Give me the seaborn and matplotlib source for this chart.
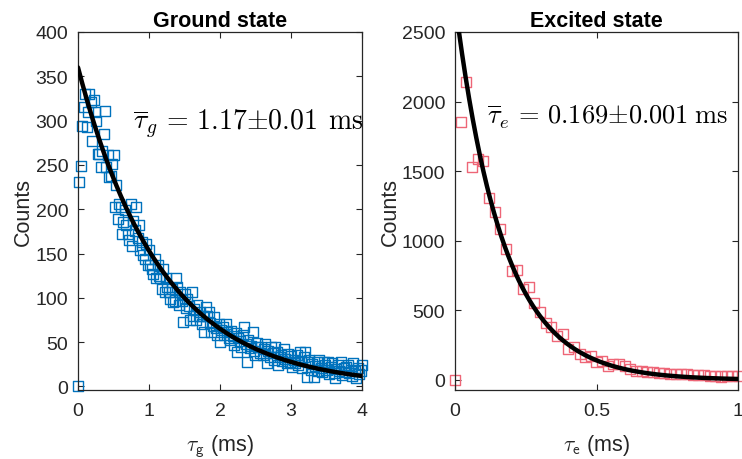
import numpy as np
import pandas as pd
import matplotlib
matplotlib.use("Agg")
import matplotlib.pyplot as plt
import seaborn as sns

# ---------------- data ----------------
# Ground state histogram (t = 0 .. 4 ms, 0.02 ms bins)
ground_t_step = 0.02
ground_counts = [
    0, 231, 249, 294, 315, 330, 293, 310, 330, 321,
    277, 323, 310, 300, 262, 262, 248, 266, 285, 311,
    248, 261, 236, 238, 251, 261, 202, 227, 189, 206,
    202, 172, 186, 199, 182, 172, 165, 206, 159, 187,
    176, 202, 167, 182, 154, 163, 148, 144, 161, 137,
    154, 137, 133, 127, 144, 122, 137, 125, 122, 110,
    133, 107, 122, 112, 107, 99, 110, 95, 97, 122,
    112, 92, 107, 97, 73, 104, 88, 99, 91, 75,
    107, 79, 87, 75, 92, 80, 84, 71, 79, 62,
    90, 80, 84, 72, 62, 68, 78, 66, 58, 71,
    50, 64, 67, 58, 71, 61, 55, 52, 63, 57,
    47, 60, 39, 55, 51, 45, 58, 67, 48, 28,
    52, 43, 46, 62, 40, 36, 49, 44, 38, 45,
    35, 42, 48, 26, 40, 33, 45, 38, 30, 45,
    39, 24, 33, 36, 29, 42, 31, 26, 37, 28,
    34, 22, 30, 27, 36, 24, 39, 29, 21, 33,
    39, 11, 28, 30, 19, 25, 11, 23, 28, 18,
    30, 21, 16, 28, 24, 19, 28, 14, 22, 26,
    15, 9, 20, 24, 17, 28, 13, 21, 16, 22,
    24, 15, 19, 12, 26, 17, 9, 21, 14, 18,
    24,
]
ground_t = [round(i * ground_t_step, 2) for i in range(len(ground_counts))]

# Excited state histogram (t = 0 .. 1 ms, 0.02 ms bins)
excited_t_step = 0.02
excited_counts = [
    0, 1851, 2139, 1528, 1588, 1575, 1305, 1205, 1085, 941,
    785, 790, 654, 666, 555, 491, 410, 379, 318, 330,
    223, 235, 187, 163, 170, 127, 134, 103, 115, 115,
    103, 80, 67, 67, 55, 58, 50, 48, 45, 44,
    40, 42, 35, 33, 35, 30, 32, 25, 30, 28,
    30,
]
excited_t = [round(i * excited_t_step, 2) for i in range(len(excited_counts))]

# Exponential fits
ground_fit_amp, ground_fit_tau = 360.0, 1.17
excited_fit_amp, excited_fit_tau = 2716.0, 0.169

titles = ["Ground state", "Excited state"]
ann = [r"$\overline{\tau}_g\,=\,1.17{\pm}0.01\;\,\mathrm{ms}$",
       r"$\overline{\tau}_e\,=\,0.169{\pm}0.001\;\mathrm{ms}$"]
xlabels = [r"$\tau_{\mathsf{g}}$ (ms)", r"$\tau_{\mathsf{e}}$ (ms)"]

# ---------------- style ----------------
sns.set_theme(style="white")
plt.rcParams["font.family"] = ["Liberation Sans", "DejaVu Sans"]
plt.rcParams["mathtext.fontset"] = "cm"

fig = plt.figure(figsize=(7.42, 4.60), dpi=100)
axL = fig.add_axes([78 / 742, 1 - 391 / 460, (362 - 78) / 742, (391 - 33) / 460])
axR = fig.add_axes([455 / 742, 1 - 391 / 460, (738 - 455) / 742, (391 - 33) / 460])

dark = "#262626"
blue = "#0072BD"
pink = "#EE6677"

ground_df = pd.DataFrame({"t": ground_t, "counts": ground_counts})
excited_df = pd.DataFrame({"t": excited_t, "counts": excited_counts})

tg = np.linspace(0, 4, 400)
te = np.linspace(0, 1, 400)
ground_fit = pd.DataFrame({"t": tg, "y": ground_fit_amp * np.exp(-tg / ground_fit_tau)})
excited_fit = pd.DataFrame({"t": te, "y": excited_fit_amp * np.exp(-te / excited_fit_tau)})

for ax, df, fit, col in [(axL, ground_df, ground_fit, blue), (axR, excited_df, excited_fit, pink)]:
    sns.scatterplot(data=df, x="t", y="counts", ax=ax, marker="s", s=52,
                    facecolor="none", edgecolor=col, linewidth=1.0, zorder=2)
    ax.collections[-1].set_clip_on(False)
    sns.lineplot(data=fit, x="t", y="y", ax=ax, color="black", linewidth=3.2, zorder=3)

axL.set_xlim(0, 4)
axL.set_ylim(-4, 400)
axL.set_xticks([0, 1, 2, 3, 4])
axL.set_yticks(range(0, 401, 50))
axR.set_xlim(0, 1)
axR.set_ylim(-72, 2500)
axR.set_xticks([0, 0.5, 1])
axR.set_xticklabels(["0", "0.5", "1"])
axR.set_yticks(range(0, 2501, 500))

for i, ax in enumerate([axL, axR]):
    for sp in ax.spines.values():
        sp.set_visible(True)
        sp.set_color(dark)
        sp.set_linewidth(0.9)
    ax.tick_params(direction="in", length=4, width=0.8, colors=dark, labelsize=14,
                   top=True, right=True, bottom=True, left=True, pad=7)
    ax.tick_params(axis="x", pad=9)
    ax.set_title(titles[i], fontsize=15.5, fontweight="bold", color="black", pad=4)
    ax.set_ylabel("Counts", fontsize=15.5, color=dark, labelpad=1)
    ax.set_xlabel(xlabels[i], fontsize=15.5, color=dark, labelpad=9)
    ax.grid(False)
    ax.set_facecolor("white")

axL.text(0.195, 0.745, ann[0], transform=axL.transAxes, fontsize=20, color="black",
         ha="left", va="center")
axR.text(0.113, 0.765, ann[1], transform=axR.transAxes, fontsize=19, color="black",
         ha="left", va="center")

fig.savefig("out.png", dpi=100, facecolor="white")
